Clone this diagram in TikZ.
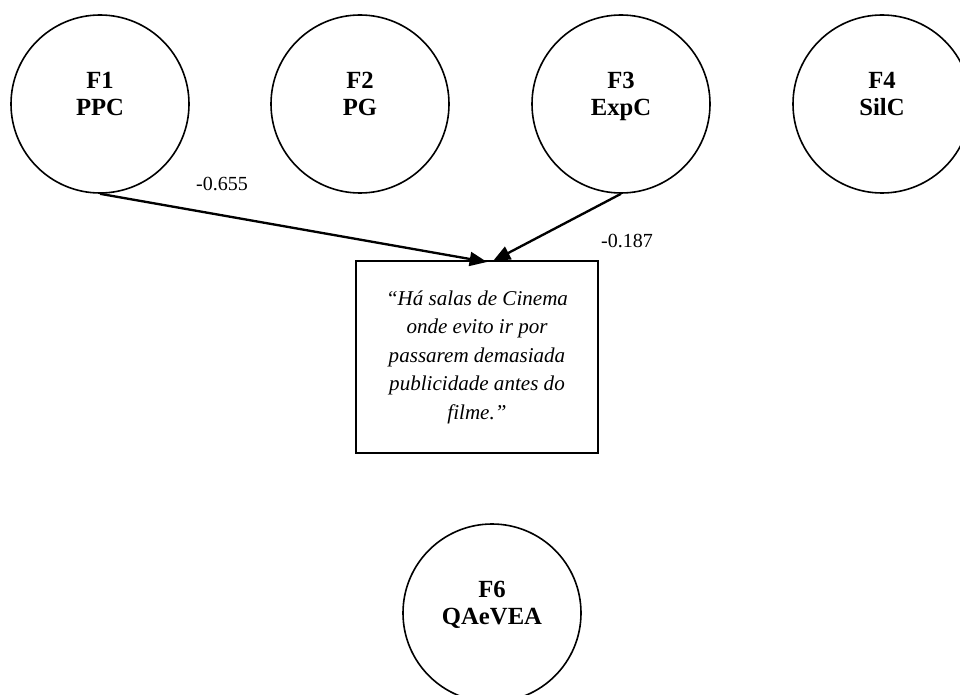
\documentclass[tikz,border=0pt]{standalone}
\usepackage{fontspec}
\setmainfont{Liberation Serif}
\usepackage{tikz}
\usetikzlibrary{arrows.meta}

\begin{document}
\begin{tikzpicture}[x=0.75pt,y=-0.75pt,
  factor/.style={draw,circle,line width=1.2pt,minimum size=133.5pt,inner sep=0pt,
    label={[align=center,yshift=4.8pt,font=\fontsize{18.5}{20}\selectfont\bfseries]center:#1\strut}},
  item/.style={draw,rectangle,line width=1.2pt,minimum width=181.5pt,minimum height=144pt,inner sep=0pt,align=center,font=\fontsize{15.8}{21.4}\selectfont\itshape},
  coef/.style={inner sep=0pt,font=\fontsize{15}{18}\selectfont},
  path/.style={line width=1.75pt,-{Triangle[length=13pt,width=10.5pt]}}]
\useasboundingbox (0,0) rectangle (960,695);
\node[factor={F1\\PPC}] (f1) at (100,104) {};
\node[factor={F2\\PG}] (f2) at (360,104) {};
\node[factor={F3\\ExpC}] (f3) at (621,104) {};
\node[factor={F4\\SilC}] (f4) at (882,104) {};
\node[factor={F6\\QAeVEA}] (f6) at (492,613) {};
\node[item] (q) at (477,357) {“Há salas de Cinema\\onde evito ir por\\passarem demasiada\\publicidade antes do\\filme.”};
\coordinate (hitA) at (487,262);
\coordinate (hitB) at (493,261);
\draw[path] (f1.south) -- (hitA);
\draw[path] (f3.south) -- (hitB);
\node[coef] (c1) at (222,184) {-0.655};
\node[coef] (c3) at (627,241) {-0.187};
\end{tikzpicture}
\end{document}
